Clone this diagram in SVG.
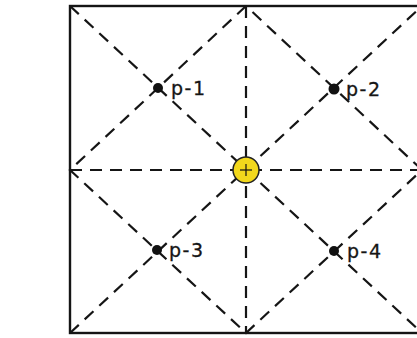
<svg xmlns="http://www.w3.org/2000/svg" width="417" height="338" viewBox="0 0 417 338">
<style>
.dash{stroke:#151515;stroke-width:2.2;stroke-dasharray:12 8;fill:none}
.frame{stroke:#151515;stroke-width:2.4;fill:none}
.dot{fill:#111}
.lbl{font-family:"DejaVu Sans","Liberation Sans",sans-serif;font-size:19px;letter-spacing:1.5px;fill:#151515;stroke:#151515;stroke-width:0.3}
</style>
<rect x="0" y="0" width="417" height="338" fill="#fff"/>
<g id="connectors">
<line class="dash" x1="70" y1="6" x2="422" y2="333"/>
<line class="dash" x1="70" y1="333" x2="422" y2="6"/>
<line class="dash" x1="246" y1="6" x2="246" y2="333"/>
<line class="dash" x1="70" y1="170" x2="422" y2="170"/>
<polyline class="dash" points="246,6 70,170 246,333 422,170 246,6"/>
</g>
<g id="frame">
<rect class="frame" x="70" y="6" width="352" height="327"/>
</g>
<g id="center">
<circle cx="246" cy="170" r="13" fill="#f2d81c" stroke="#222" stroke-width="1.5"/>
<line x1="240" y1="170" x2="252" y2="170" stroke="#111" stroke-width="1.2"/>
<line x1="246" y1="164" x2="246" y2="176" stroke="#111" stroke-width="1.2"/>
</g>
<g id="p1"><circle class="dot" cx="158" cy="88" r="5"/><text class="lbl" x="171" y="95">p-1</text></g>
<g id="p2"><circle class="dot" cx="334" cy="89" r="5.5"/><text class="lbl" x="346" y="96">p-2</text></g>
<g id="p3"><circle class="dot" cx="157" cy="250" r="5"/><text class="lbl" x="169" y="257">p-3</text></g>
<g id="p4"><circle class="dot" cx="334" cy="251" r="5"/><text class="lbl" x="347" y="258">p-4</text></g>
</svg>
